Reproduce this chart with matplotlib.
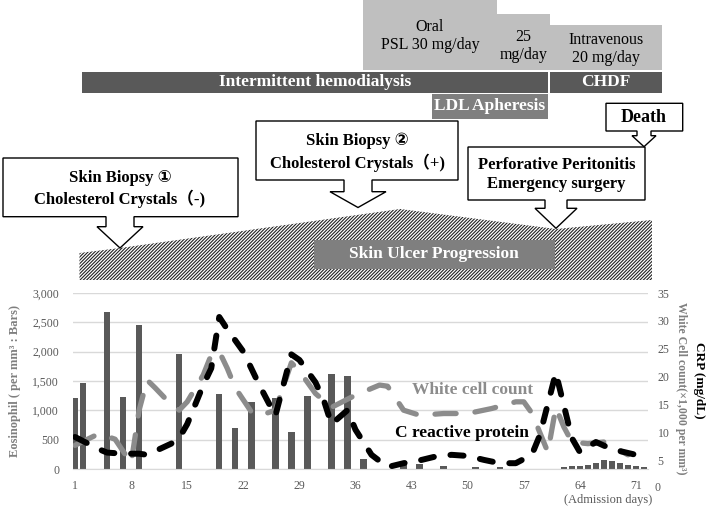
import matplotlib
matplotlib.use("Agg")
import matplotlib.pyplot as plt
import matplotlib.transforms as mtransforms
from matplotlib.patches import Rectangle, Polygon
from matplotlib.ticker import FuncFormatter

plt.rcParams['font.family'] = ['Liberation Serif', 'DejaVu Sans', 'Noto Sans CJK JP']
plt.rcParams['hatch.linewidth'] = 0.8
plt.rcParams['hatch.color'] = '#222222'

# eosinophil count per mm3 (bars, left axis)
eos_days = [1, 2, 5, 7, 9, 14, 19, 21, 23, 26, 28, 30, 33, 35, 37, 42, 44, 47, 51, 54,
            62, 63, 64, 65, 66, 67, 68, 69, 70, 71, 72]
eos_vals = [1210, 1470, 2670, 1230, 2455, 1955, 1275, 705, 1150, 1215, 635, 1245, 1615, 1590,
            170, 85, 85, 45, 40, 40,
            40, 45, 55, 70, 110, 150, 130, 100, 70, 50, 40]

# white cell count x1,000 per mm3 (grey dashes, right axis)
wbc_days = [1, 4, 6, 8, 9, 10, 11, 13, 14, 15, 17, 18, 19, 20, 21, 23, 24, 26, 28, 29, 31,
            33, 36, 39, 40, 42, 44, 47, 50, 53, 56, 57, 58, 60, 61, 62, 63, 65, 67, 70]
wbc_vals = [7.7, 9.8, 8.8, 4.5, 14.0, 19.4, 18.0, 15.0, 14.0, 15.5, 20.3, 23.9, 24.5, 21.5,
            18.0, 13.7, 13.0, 14.0, 22.5, 21.0, 17.0, 14.5, 16.7, 18.5, 18.3, 14.0, 13.1,
            13.4, 13.4, 14.3, 15.5, 15.5, 13.5, 6.5, 14.5, 11.0, 8.3, 8.0, 8.3, 6.0]

# C reactive protein mg/dL (black dashes, right axis)
crp_days = [1, 4, 5, 7, 9, 10, 13, 14, 15, 16, 17, 18, 19, 20, 22, 24, 26, 27, 28, 29, 31,
            32, 33, 35, 36, 38, 40, 42, 44, 46, 48, 50, 52, 54, 56, 58, 59, 61, 63, 64, 66,
            68, 71]
crp_vals = [9.2, 7.0, 6.4, 6.2, 6.2, 6.0, 8.0, 9.0, 11.5, 15.0, 18.5, 21.5, 30.7, 28.5, 24.5,
            18.5, 13.0, 18.5, 24.0, 23.0, 19.0, 16.0, 11.5, 14.0, 10.5, 6.0, 3.8, 4.5, 5.0,
            5.7, 6.0, 5.8, 5.1, 4.5, 4.5, 6.0, 9.5, 20.7, 9.0, 6.5, 8.3, 7.0, 6.0]

x_ticks = [1, 8, 15, 22, 29, 36, 43, 50, 57, 64, 71]
eos_ticks = [0, 500, 1000, 1500, 2000, 2500, 3000]
right_ticks = [5, 10, 15, 20, 25, 30, 35]

dark = '#595959'
mid = '#7f7f7f'
light = '#bfbfbf'
grid_c = '#d9d9d9'
wbc_c = '#8c8c8c'

fig = plt.figure(figsize=(7.08, 5.08), dpi=100)
W, H = 708, 508

# ---- main chart ----
ax = fig.add_axes([73 / W, (H - 469) / H, (648 - 73) / W, 176 / H])
ax.bar(eos_days, eos_vals, width=0.8, color=dark, zorder=2)
ax.set_xlim(0.75, 72.5)
ax.set_ylim(0, 3000)
ax.set_yticks(eos_ticks)
ax.yaxis.set_major_formatter(FuncFormatter(lambda v, p: f'{int(v):,}'))
ax.set_xticks(x_ticks)
ax.grid(axis='y', color=grid_c, lw=1, zorder=0)
ax.set_axisbelow(True)
for s in ['top', 'right', 'left']:
    ax.spines[s].set_visible(False)
ax.spines['bottom'].set_color(grid_c)
ax.tick_params(axis='both', length=0, labelsize=8.5, labelcolor=dark)
ax.tick_params(axis='y', pad=10)
ax.tick_params(axis='x', pad=8)
ax.set_ylabel('Eosinophil ( per mm³ : Bars)', fontsize=9, fontweight='bold', color=mid,
              labelpad=8)

ax2 = ax.twinx()
ax2.set_ylim(3.46, 35)
ax2.set_xlim(0.75, 72.5)
ax2.plot(wbc_days, wbc_vals, color=wbc_c, lw=3.8, linestyle=(0, (4, 3.6)),
         dash_capstyle='round', solid_joinstyle='round', zorder=3)
ax2.plot(crp_days, crp_vals, color='black', lw=4.3, linestyle=(0, (2.2, 2.8)),
         dash_capstyle='round', solid_joinstyle='round', zorder=4)
ax2.set_yticks(right_ticks)
for s in ['top', 'right', 'left', 'bottom']:
    ax2.spines[s].set_visible(False)
ax2.tick_params(axis='y', length=0, labelsize=8.5, labelcolor=dark, pad=7)
zero_tr = mtransforms.blended_transform_factory(ax2.transAxes, ax2.transData)
ax2.text(1.012, 0, '0', transform=zero_tr, fontsize=8.5, color=dark, va='center', ha='left')

# ---- overlay in pixel coordinates for the timeline and annotations ----
ov = fig.add_axes([0, 0, 1, 1])
ov.set_xlim(0, W)
ov.set_ylim(H, 0)
ov.axis('off')

# right axis titles and x label
ov.text(681, 388, 'White Cell count(×1,000 per mm³)', rotation=270, fontsize=8.5,
        fontweight='bold', color=mid, ha='center', va='center')
ov.text(699, 380, 'CRP (mg/dL)', rotation=270, fontsize=9.5, fontweight='bold',
        color='black', ha='center', va='center')
ov.text(652, 500, '(Admission days)', fontsize=9, color=dark, ha='right', va='center')

# series labels
ov.text(473, 390, 'White cell count', fontsize=12.5, fontweight='bold', color=wbc_c,
        ha='center', va='center')
ov.text(462, 433, 'C reactive protein', fontsize=12.5, fontweight='bold', color='black',
        ha='center', va='center')

# steroid boxes
ov.add_patch(Rectangle((362.7, 0), 134.6, 70, fc=light, ec='none'))
ov.add_patch(Rectangle((497.3, 14), 52.7, 56, fc=light, ec='none'))
ov.add_patch(Rectangle((550, 25), 111.7, 45, fc=light, ec='none'))
ov.text(430, 36, 'Oral\nPSL 30 mg/day', fontsize=11.5, ha='center', va='center',
        linespacing=1.15)
ov.text(523.5, 46, '25\nmg/day', fontsize=11.5, ha='center', va='center', linespacing=1.15)
ov.text(606, 49, 'Intravenous\n20 mg/day', fontsize=11.5, ha='center', va='center',
        linespacing=1.15)

# dialysis bars
ov.add_patch(Rectangle((81.7, 71.7), 466.6, 21, fc=dark, ec='none'))
ov.add_patch(Rectangle((550, 71.7), 111.7, 21, fc=dark, ec='none'))
ov.add_patch(Rectangle((431.7, 93.5), 116.6, 25, fc=mid, ec='none'))
ov.text(315, 82.5, 'Intermittent hemodialysis', fontsize=12.5, fontweight='bold',
        color='white', ha='center', va='center')
ov.text(606, 82.5, 'CHDF', fontsize=12.5, fontweight='bold', color='white',
        ha='center', va='center')
ov.text(490, 106.5, 'LDL Apheresis', fontsize=12.5, fontweight='bold', color='white',
        ha='center', va='center')


def callout(x0, y0, x1, y1, cx, stem_w, head_w, stem_y, tip_y):
    pts = [(x0, y0), (x1, y0), (x1, y1), (cx + stem_w / 2, y1), (cx + stem_w / 2, stem_y),
           (cx + head_w / 2, stem_y), (cx, tip_y), (cx - head_w / 2, stem_y),
           (cx - stem_w / 2, stem_y), (cx - stem_w / 2, y1), (x0, y1)]
    ov.add_patch(Polygon(pts, closed=True, fc='white', ec='black', lw=1, zorder=3))


# skin ulcer progression band
ulcer = [(79.5, 280), (79.5, 253), (120, 248), (400, 209), (556, 229), (652, 220), (652, 280)]
ov.add_patch(Polygon(ulcer, closed=True, fc='white', ec='#222222', lw=0,
                     hatch='//////////', zorder=1))
ov.add_patch(Rectangle((313.6, 240), 240.9, 29, fc=mid, ec='none', zorder=2))
ov.text(434, 254.5, 'Skin Ulcer Progression', fontsize=12.5, fontweight='bold',
        color='white', ha='center', va='center', zorder=4)

callout(3, 158, 238, 216.7, 120, 28, 46, 226.7, 248)
ov.text(120, 189, 'Skin Biopsy ①\nCholesterol Crystals（-)', fontsize=12, fontweight='bold',
        ha='center', va='center', linespacing=1.3, zorder=4)
callout(256, 121, 458, 180, 358, 28, 56, 191.7, 207.5)
ov.text(357, 152, 'Skin Biopsy ②\nCholesterol Crystals（+)', fontsize=12, fontweight='bold',
        ha='center', va='center', linespacing=1.3, zorder=4)
callout(468, 147, 645, 200, 556, 22, 42, 208.3, 228.3)
ov.text(556.5, 174.7, 'Perforative Peritonitis\nEmergency surgery', fontsize=12,
        fontweight='bold', ha='center', va='center', linespacing=1.3, zorder=4)
callout(606, 103.3, 682.7, 131, 644, 14, 24, 135.7, 146.7)
ov.text(644, 117, 'Death', fontsize=13, fontweight='bold', ha='center', va='center',
        zorder=4)

fig.savefig('out.png', dpi=100)
